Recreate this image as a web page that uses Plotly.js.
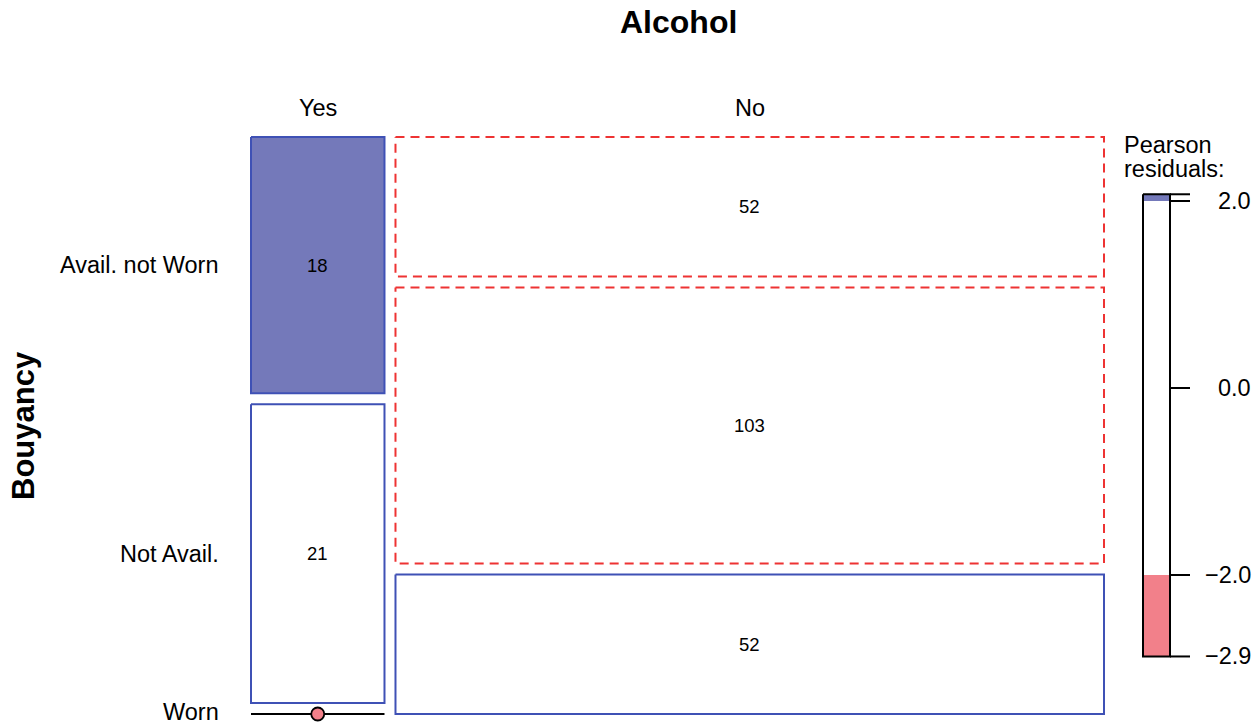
<!DOCTYPE html>
<html><head><meta charset="utf-8">
<script src="https://cdn.plot.ly/plotly-3.0.1.min.js"></script>
<style>html,body{margin:0;padding:0;background:#fff}#chart{width:1256px;height:725px}</style>
</head><body><div id="chart"></div>
<script>
// ---- data ----
const alcohol = ["Yes", "No"];
const buoyancy = ["Avail. not Worn", "Not Avail.", "Worn"];
const countsYes = [18, 21, 0];
const countsNo = [52, 103, 52];
const legendTickValues = [2.0, 0.0, -2.0];
const titleText = "Alcohol";
const yTitleText = "Bouyancy";
const legendTitle = ["Pearson", "residuals:"];

// ---- layout constants (pixel frame) ----
const W = 1256, H = 725;
const X0 = 251, X1 = 1104, Y0 = 137, Y1 = 714, GAP = 11;
const LEG = {x0: 1143, x1: 1170, tick: 1190, zero: 388, scale: 93.5};
const BLUE_FILL = "#7479BA", RED_FILL = "#F2808A";
const BLUE_LINE = "#3F51B5", RED_LINE = "#EE3333";
const FONT = "Liberation Sans, Arial, Helvetica, sans-serif";
const LBL = 23.5;

const table = [countsYes, countsNo];
const colTot = table.map(c => c.reduce((a, b) => a + b, 0));
const total = colTot.reduce((a, b) => a + b, 0);
const rowTot = buoyancy.map((_, i) => table.reduce((s, c) => s + c[i], 0));
const resid = table.map((c, j) => c.map((v, i) => {
  const e = colTot[j] * rowTot[i] / total;
  return (v - e) / Math.sqrt(e);
}));

const traces = [];
const annotations = [];
const widthAvail = (X1 - X0) - GAP * (alcohol.length - 1);
const heightAvail = (Y1 - Y0) - GAP * (buoyancy.length - 1);
let cx = X0;
const yesCenters = [];
alcohol.forEach((a, j) => {
  const w = widthAvail * colTot[j] / total;
  annotations.push({x: cx + w / 2, y: 108, text: a, showarrow: false, xref: "x", yref: "y",
    font: {family: FONT, size: LBL, color: "#000"}});
  let cy = Y0;
  table[j].forEach((v, i) => {
    const h = heightAvail * v / colTot[j];
    const r = resid[j][i];
    if (j === 0) yesCenters.push(cy + h / 2);
    if (v === 0) {
      traces.push({type: "scatter", mode: "lines", x: [cx, cx + w], y: [cy, cy],
        line: {color: "#000", width: 1.8}, hoverinfo: "skip"});
      traces.push({type: "scatter", mode: "markers", x: [cx + w / 2], y: [cy],
        marker: {size: 13, color: r > 2 ? BLUE_FILL : (r < -2 ? RED_FILL : "#fff"),
          line: {color: "#000", width: 1.8}}, hoverinfo: "skip"});
    } else {
      const fill = r > 2 ? BLUE_FILL : (r < -2 ? RED_FILL : "#ffffff");
      traces.push({type: "scatter", mode: "lines",
        x: [cx, cx + w, cx + w, cx, cx], y: [cy, cy, cy + h, cy + h, cy],
        fill: "toself", fillcolor: fill,
        line: {color: r >= 0 ? BLUE_LINE : RED_LINE, width: 2, dash: r >= 0 ? "solid" : "9px,6px"},
        hoverinfo: "skip"});
      annotations.push({x: cx + w / 2, y: cy + h / 2, text: String(v), showarrow: false,
        xref: "x", yref: "y", font: {family: FONT, size: 18.5, color: "#000"}});
    }
    cy += h + GAP;
  });
  cx += w + GAP;
});
buoyancy.forEach((b, i) => {
  annotations.push({x: 221, y: Math.min(yesCenters[i], 712), text: b, showarrow: false, xanchor: "right",
    xref: "x", yref: "y", font: {family: FONT, size: LBL, color: "#000"}});
});

// ---- legend ----
const all = resid.flat();
const rmax = Math.max(...all), rmin = Math.min(...all);
const ly = r => LEG.zero - r * LEG.scale;
function rect(y0, y1, color) {
  traces.push({type: "scatter", mode: "lines",
    x: [LEG.x0, LEG.x1, LEG.x1, LEG.x0, LEG.x0], y: [y0, y0, y1, y1, y0],
    fill: "toself", fillcolor: color, line: {width: 0, color: color}, hoverinfo: "skip"});
}
rect(ly(rmax), ly(2), BLUE_FILL);
rect(ly(2), ly(-2), "#ffffff");
rect(ly(-2), ly(rmin), RED_FILL);
traces.push({type: "scatter", mode: "lines",
  x: [LEG.x0, LEG.x1, LEG.x1, LEG.x0, LEG.x0], y: [ly(rmax), ly(rmax), ly(rmin), ly(rmin), ly(rmax)],
  line: {color: "#000", width: 2}, hoverinfo: "skip"});
const tickVals = [rmax, ...legendTickValues, rmin];
tickVals.forEach(t => {
  traces.push({type: "scatter", mode: "lines", x: [LEG.x1, LEG.tick], y: [ly(t), ly(t)],
    line: {color: "#000", width: 2}, hoverinfo: "skip"});
});
[...legendTickValues, rmin].forEach(t => {
  annotations.push({x: 1253, y: ly(t), text: t.toFixed(1).replace("-", "\u2212"), showarrow: false,
    xanchor: "right", xref: "x", yref: "y", font: {family: FONT, size: LBL, color: "#000"}});
});
annotations.push({x: 1122, y: 145, text: legendTitle[0], showarrow: false, xanchor: "left",
  xref: "x", yref: "y", font: {family: FONT, size: LBL, color: "#000"}});
annotations.push({x: 1122, y: 169, text: legendTitle[1], showarrow: false, xanchor: "left",
  xref: "x", yref: "y", font: {family: FONT, size: LBL, color: "#000"}});

// titles
annotations.push({x: 678, y: 22, text: "<b>" + titleText + "</b>", showarrow: false,
  xref: "x", yref: "y", font: {family: FONT, size: 32, color: "#000"}});
annotations.push({x: 23, y: 426, text: "<b>" + yTitleText + "</b>", showarrow: false, textangle: -90,
  xref: "x", yref: "y", font: {family: FONT, size: 31, color: "#000"}});

const layout = {
  width: W, height: H, margin: {l: 0, r: 0, t: 0, b: 0},
  paper_bgcolor: "#fff", plot_bgcolor: "#fff", showlegend: false,
  xaxis: {range: [0, W], visible: false, fixedrange: true},
  yaxis: {range: [H, 0], visible: false, fixedrange: true},
  annotations: annotations
};
traces.forEach(t => t.cliponaxis = false);
Plotly.newPlot("chart", traces, layout, {staticPlot: true, displayModeBar: false});
</script></body></html>
